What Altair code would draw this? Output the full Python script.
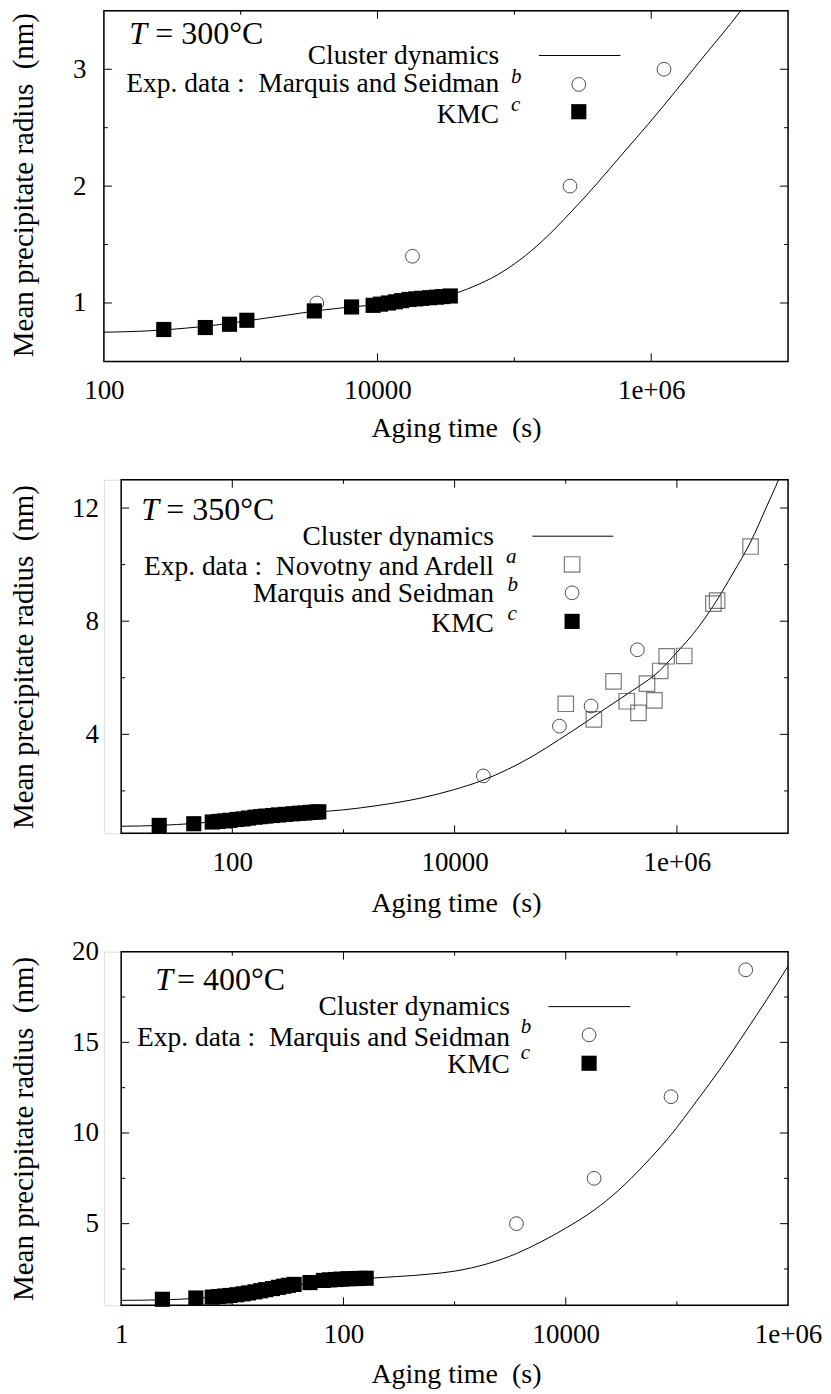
import altair as alt
import pandas as pd

FONT = "Liberation Serif"
NB = "\u00a0"

# ---------------- Panel 1 : T = 300 C ----------------
p1_curve_t = [100, 200, 400, 700, 1000, 2000, 4000, 7000, 10000, 15000, 22000, 34000, 50000, 75000,
              110000, 160000, 260000, 400000, 600000, 950000, 1500000, 2500000, 4500000, 7000000]
p1_curve_r = [0.75, 0.76, 0.785, 0.815, 0.84, 0.89, 0.94, 0.97, 0.985, 1.005, 1.03, 1.07, 1.14, 1.24,
              1.37, 1.53, 1.78, 2.02, 2.26, 2.53, 2.81, 3.13, 3.5, 3.82]
p1_kmc_t = [274, 551, 828, 1109, 3451, 6457, 9290, 10500, 12000, 13500, 15000, 17000, 19000,
            21000, 24000, 27000, 30000, 34000]
p1_kmc_r = [0.773, 0.79, 0.818, 0.852, 0.932, 0.966, 0.98, 0.99, 1.0, 1.01, 1.02, 1.03, 1.035,
            1.04, 1.045, 1.05, 1.055, 1.06]
p1_ms_t = [3600, 18000, 255000, 1240000]
p1_ms_r = [1.0, 1.4, 2.0, 3.0]

# ---------------- Panel 2 : T = 350 C ----------------
p2_curve_t = [10, 22, 45, 100, 200, 400, 600, 1000, 2000, 5000, 10000, 18000, 30000, 50000, 87700,
              150000, 250000, 400000, 700000, 1000000, 1500000, 2130000, 3200000, 4600000, 6500000,
              8200000, 10000000]
p2_curve_r = [0.75, 0.78, 0.85, 0.97, 1.1, 1.2, 1.26, 1.33, 1.48, 1.75, 2.05, 2.38, 2.76, 3.22, 3.82,
              4.42, 5.02, 5.55, 6.25, 6.9, 7.7, 8.55, 9.7, 10.8, 12.1, 13.0, 13.9]
p2_kmc_t = [22, 45, 66, 75, 85, 95, 110, 125, 140, 160, 180, 200, 230, 260, 300, 350, 400, 450, 500, 560, 600]
p2_kmc_r = [0.78, 0.84, 0.9, 0.92, 0.94, 0.96, 0.99, 1.01, 1.04, 1.07, 1.09, 1.11, 1.13, 1.15,
            1.17, 1.19, 1.21, 1.22, 1.24, 1.25, 1.26]
p2_ms_t = [18150, 87700, 169000, 441000]
p2_ms_r = [2.53, 4.29, 5.0, 6.99]
p2_na_t = [100000, 179000, 269000, 354000, 451000, 538000, 628000, 708000, 809000, 1164000,
           2130000, 2300000, 4600000]
p2_na_r = [5.08, 4.53, 5.87, 5.17, 4.76, 5.79, 5.2, 6.24, 6.76, 6.77, 8.62, 8.73, 10.64]

# ---------------- Panel 3 : T = 400 C ----------------
p3_curve_t = [1, 2.35, 4.7, 7, 10, 15, 20, 30, 40, 50, 70, 100, 170, 300, 600, 1000, 2000, 3600,
              6000, 10000, 18000, 30000, 50000, 88500, 150000, 250000, 416000, 650000, 1000000]
p3_curve_r = [0.77, 0.8, 0.88, 0.97, 1.05, 1.2, 1.32, 1.5, 1.63, 1.72, 1.83, 1.9, 1.99, 2.08,
              2.22, 2.38, 2.8, 3.35, 4.0, 4.75, 5.75, 6.85, 8.2, 9.9, 11.75, 13.6, 15.6, 17.4, 19.2]
p3_kmc_t = [2.35, 4.7, 6.6, 7.5, 8.5, 9.5, 11, 12.5, 14, 16, 18, 20, 23, 26, 29, 32, 36, 50,
            66, 75, 85, 95, 110, 125, 140, 160]
p3_kmc_r = [0.83, 0.9, 0.95, 0.98, 1.01, 1.04, 1.08, 1.13, 1.18, 1.24, 1.3, 1.36, 1.42, 1.49,
            1.55, 1.6, 1.65, 1.75, 1.87, 1.9, 1.92, 1.94, 1.96, 1.97, 1.98, 1.99]
p3_ms_t = [3600, 18000, 88500, 416000]
p3_ms_r = [5.0, 7.5, 12.0, 19.0]

# ---------------- axes / text ----------------
x_title = "Aging time" + NB + " (s)"
y_title = "Mean precipitate radius" + NB + " (nm)"
lbl_cd = "Cluster dynamics"
lbl_exp_ms = "Exp. data :" + NB + " Marquis and Seidman"
lbl_exp_na = "Exp. data :" + NB + " Novotny and Ardell"
lbl_ms = "Marquis and Seidman"
lbl_kmc = "KMC"

W = 685
TICK_FS = 27
XTITLE_FS = 28
YTITLE_FS = 29
LEG_FS = 27.5
SUP_FS = 21
CIRCLE_SIZE = 190
FSQ_SIZE = 230
OSQ_SIZE = 240


def label_expr(vals, labels):
    expr = "''"
    for v, l in reversed(list(zip(vals, labels))):
        expr = f"(datum.value == {v}) ? '{l}' : ({expr})"
    return expr


one = pd.DataFrame({"a": [0]})


def text_layer(txt, x, y, size=LEG_FS, align="right", style="normal"):
    return alt.Chart(one).mark_text(text=txt, align=align, baseline="alphabetic", font=FONT,
                                    fontSize=size, fontStyle=style, color="black").encode(
        x=alt.value(x), y=alt.value(y))


def make_panel(H, x0, xdom, ydom, xlab_vals, xlab_txt, xminor, ymaj, ymin, ylab_pad, ytitle_y,
               xtitle_y, curve, kmc, ms, na, temp, tpos, legend):
    xs = alt.Scale(type="log", domain=xdom, range=[x0, W], nice=False)
    ys = alt.Scale(type="linear", domain=ydom, nice=False, zero=False)
    xaxis = alt.Axis(values=xlab_vals, labelExpr=label_expr(xlab_vals, xlab_txt), ticks=False,
                     tickSize=0, domain=False, grid=False, labelFont=FONT, labelFontSize=TICK_FS,
                     labelColor="black", labelPadding=16.5, labelFlush=False, labelOverlap=False,
                     title=x_title, titleFont=FONT, titleFontSize=XTITLE_FS, titleFontWeight="normal",
                     titleColor="black", titleX=352.5, titleY=xtitle_y, titleBaseline="alphabetic")
    yaxis = alt.Axis(values=ymaj, format="d", ticks=False, tickSize=0, domain=False, grid=False,
                     labelFont=FONT, labelFontSize=TICK_FS, labelColor="black", labelPadding=ylab_pad,
                     labelFlush=False, labelOverlap=False, title=y_title, titleFont=FONT,
                     titleFontSize=YTITLE_FS, titleFontWeight="normal", titleColor="black",
                     titleX=-71.5, titleY=ytitle_y, titleBaseline="alphabetic", titleAngle=270)

    def X(f="t"):
        return alt.X(f"{f}:Q", scale=xs, axis=xaxis)

    def Y(f="r"):
        return alt.Y(f"{f}:Q", scale=ys, axis=yaxis)

    layers = []
    # curve (cluster dynamics)
    cdf = pd.DataFrame({"t": curve[0], "r": curve[1]})
    layers.append(alt.Chart(cdf).mark_line(color="black", strokeWidth=1, clip=True,
                                           interpolate="monotone").encode(x=X(), y=Y()))
    # Novotny and Ardell (open squares)
    if na is not None:
        ndf = pd.DataFrame({"t": na[0], "r": na[1]})
        layers.append(alt.Chart(ndf).mark_point(shape="square", filled=False, size=OSQ_SIZE,
                                                color="#444444", strokeWidth=1.2).encode(x=X(), y=Y()))
    # Marquis and Seidman (open circles)
    mdf = pd.DataFrame({"t": ms[0], "r": ms[1]})
    layers.append(alt.Chart(mdf).mark_point(shape="circle", filled=False, size=CIRCLE_SIZE,
                                            color="black", strokeWidth=1).encode(x=X(), y=Y()))
    # KMC (filled squares)
    kdf = pd.DataFrame({"t": kmc[0], "r": kmc[1]})
    layers.append(alt.Chart(kdf).mark_square(size=FSQ_SIZE, color="black", opacity=1).encode(x=X(), y=Y()))

    # inward ticks on all four sides
    inner_major = [v for v in xlab_vals if xdom[0] < v < xdom[1]]
    for vals, ln in ((inner_major, 8), (xminor, 4)):
        if vals:
            d = pd.DataFrame({"t": vals})
            layers.append(alt.Chart(d).mark_rule(color="black", strokeWidth=1).encode(
                x=X(), y=alt.value(H), y2=alt.value(H - ln)))
            layers.append(alt.Chart(d).mark_rule(color="black", strokeWidth=1).encode(
                x=X(), y=alt.value(0), y2=alt.value(ln)))
    inner_ymaj = [v for v in ymaj if ydom[0] < v < ydom[1]]
    for vals, ln in ((inner_ymaj, 8), (ymin, 4)):
        if vals:
            d = pd.DataFrame({"r": vals})
            layers.append(alt.Chart(d).mark_rule(color="black", strokeWidth=1).encode(
                y=Y(), x=alt.value(x0), x2=alt.value(x0 + ln)))
            layers.append(alt.Chart(d).mark_rule(color="black", strokeWidth=1).encode(
                y=Y(), x=alt.value(W - ln), x2=alt.value(W)))

    # frame
    layers.append(alt.Chart(one).mark_rect(fill="transparent", stroke="black", strokeWidth=1.5).encode(
        x=alt.value(x0), x2=alt.value(W), y=alt.value(0), y2=alt.value(H)))

    # temperature label
    layers.append(text_layer("T", tpos[0], tpos[2], size=32, align="left", style="italic"))
    layers.append(text_layer("= " + temp + "\u00b0C", tpos[1], tpos[2], size=32, align="left"))

    # key
    for item in legend:
        kind = item[0]
        if kind == "text":
            layers.append(text_layer(item[1], item[2], item[3]))
        elif kind == "sup":
            layers.append(text_layer(item[1], item[2], item[3], size=SUP_FS, align="left", style="italic"))
        elif kind == "line":
            layers.append(alt.Chart(one).mark_rule(color="black", strokeWidth=1).encode(
                x=alt.value(item[1]), x2=alt.value(item[2]), y=alt.value(item[3])))
        elif kind == "circle":
            layers.append(alt.Chart(one).mark_point(shape="circle", filled=False, size=CIRCLE_SIZE,
                                                    color="black", strokeWidth=1).encode(
                x=alt.value(item[1]), y=alt.value(item[2])))
        elif kind == "osquare":
            layers.append(alt.Chart(one).mark_point(shape="square", filled=False, size=OSQ_SIZE,
                                                    color="#444444", strokeWidth=1.2).encode(
                x=alt.value(item[1]), y=alt.value(item[2])))
        elif kind == "fsquare":
            layers.append(alt.Chart(one).mark_square(size=FSQ_SIZE, color="black", opacity=1).encode(
                x=alt.value(item[1]), y=alt.value(item[2])))

    return alt.layer(*layers).properties(width=W, height=H)


H1, H2, H3 = 351, 354, 354
X0B = 17.3

p1 = make_panel(
    H1, 0, [100, 1e7], [0.5, 3.5], [100, 10000, 1000000], ["100", "10000", "1e+06"],
    [1000, 100000], [1, 2, 3], [1.5, 2.5], 18, 174, 75,
    (p1_curve_t, p1_curve_r), (p1_kmc_t, p1_kmc_r), (p1_ms_t, p1_ms_r), None,
    "300", (25.5, 51.5, 32.7),
    [("text", lbl_cd, 395.8, 53.7), ("line", 435.5, 517.2, 44.7),
     ("text", lbl_exp_ms, 395.8, 81.5), ("sup", "b", 407.5, 72), ("circle", 475.5, 73.7),
     ("text", lbl_kmc, 395.8, 112), ("sup", "c", 407.5, 100), ("fsquare", 475.5, 101)])

p2 = make_panel(
    H2, X0B, [10, 1e7], [0.5, 13], [100, 10000, 1000000], ["100", "10000", "1e+06"],
    [1000, 100000], [4, 8, 12], [2, 6, 10], 5.5, 177, 78,
    (p2_curve_t, p2_curve_r), (p2_kmc_t, p2_kmc_r), (p2_ms_t, p2_ms_r), (p2_na_t, p2_na_r),
    "350", (37.5, 62.5, 40),
    [("text", lbl_cd, 390.5, 65.2), ("line", 429, 510, 56.5),
     ("text", lbl_exp_na, 390.5, 95.8), ("sup", "a", 402.5, 83.5), ("osquare", 468.8, 84.8),
     ("text", lbl_ms, 390.5, 122.5), ("sup", "b", 404, 111.5), ("circle", 468.8, 113.2),
     ("text", lbl_kmc, 390.5, 152.5), ("sup", "c", 404, 140.5), ("fsquare", 468.8, 141.8)])

p3 = make_panel(
    H3, X0B, [1, 1e6], [0.5, 20], [1, 100, 10000, 1000000], ["1", "100", "10000", "1e+06"],
    [10, 1000, 100000], [5, 10, 15, 20], [2.5, 7.5, 12.5, 17.5], 5.5, 177, 77,
    (p3_curve_t, p3_curve_r), (p3_kmc_t, p3_kmc_r), (p3_ms_t, p3_ms_r), None,
    "400", (51.5, 73.3, 38.5),
    [("text", lbl_cd, 406.5, 63.3), ("line", 445, 527, 55),
     ("text", lbl_exp_ms, 406.5, 94), ("sup", "b", 417.5, 81), ("circle", 485.8, 83.3),
     ("text", lbl_kmc, 406.5, 121.7), ("sup", "c", 417.5, 107), ("fsquare", 485.8, 111.7)])

chart = alt.vconcat(p1, p2, p3, spacing=118.5, bounds="flush").properties(
    padding={"left": 0, "top": 0, "right": 0, "bottom": 0}
).configure_view(strokeWidth=0).configure(font=FONT, background="white")

chart.save("out.html", embed_options={"renderer": "svg", "actions": False})
